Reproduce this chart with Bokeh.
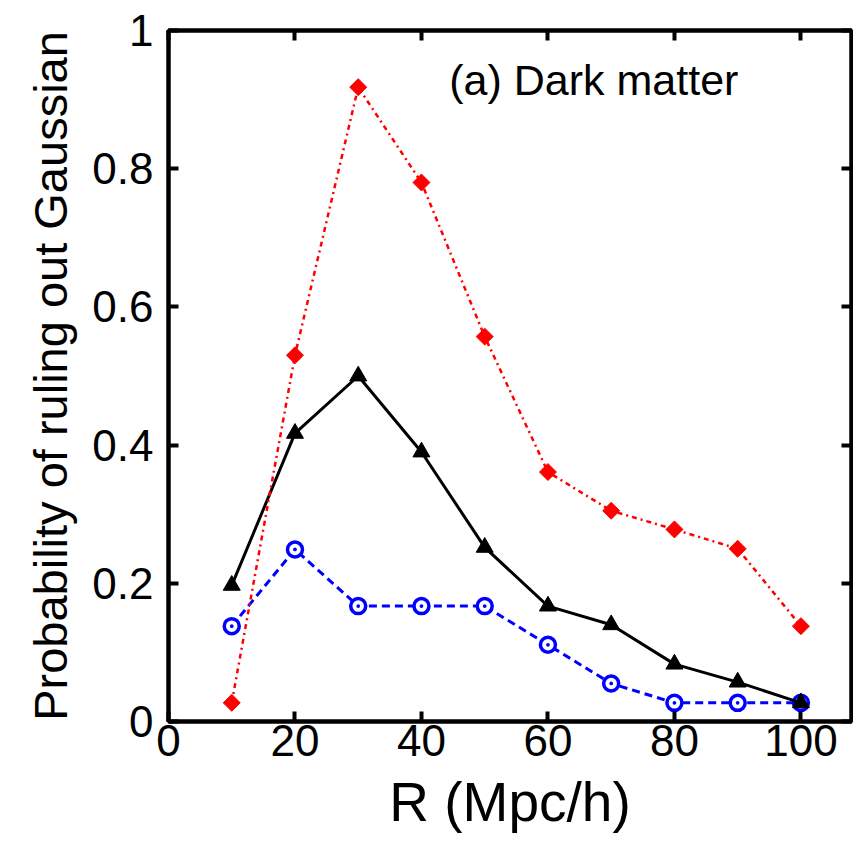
import math
from bokeh.plotting import figure
from bokeh.models import Range1d, LinearAxis, FixedTicker, Label
from bokeh.embed import file_html
from bokeh.resources import INLINE

R = [10, 20, 30, 40, 50, 60, 70, 80, 90, 100]
red_diamond = [0.027, 0.53, 0.918, 0.78, 0.557, 0.361, 0.305, 0.278, 0.25, 0.138]
black_triangle = [0.197, 0.417, 0.50, 0.39, 0.252, 0.167, 0.14, 0.083, 0.057, 0.027]
blue_circle = [0.138, 0.249, 0.167, 0.167, 0.167, 0.111, 0.055, 0.027, 0.027, 0.027]

x_ticks = [0, 20, 40, 60, 80, 100]
y_ticks = [0, 0.2, 0.4, 0.6, 0.8, 1]
y_tick_labels = {0: "0", 0.2: "0.2", 0.4: "0.4", 0.6: "0.6", 0.8: "0.8", 1: "1"}

FONT = "Liberation Sans"

p = figure(width=853, height=835, output_backend="svg", toolbar_location=None,
           x_range=Range1d(0, 108), y_range=Range1d(0, 1),
           min_border_left=168, min_border_top=30, min_border_bottom=110,
           min_border_right=2)
p.background_fill_color = "white"
p.border_fill_color = "white"
p.grid.visible = False
p.outline_line_color = "black"
p.outline_line_width = 4

# series
p.line(R, blue_circle, line_color="#0000ff", line_width=3, line_dash="8 5")
p.scatter(R, blue_circle, marker="circle_dot", size=15, line_color="#0000ff",
          line_width=3.5, fill_color="white")

p.line(R, black_triangle, line_color="black", line_width=3)
p.scatter(R, black_triangle, marker="triangle", size=17, line_color="black",
          fill_color="black")

p.line(R, red_diamond, line_color="#ff0000", line_width=2.5, line_dash="5 4 2 4")
p.scatter(R, red_diamond, marker="square", angle=math.pi / 4, size=12,
          line_color="#ff0000", fill_color="#ff0000")

def style_axis(ax):
    ax.axis_line_width = 4
    ax.axis_line_color = "black"
    ax.major_tick_line_width = 4
    ax.major_tick_line_color = "black"
    ax.major_tick_in = 10
    ax.major_tick_out = 0
    ax.minor_tick_line_color = None

xa = p.xaxis[0]
xa.ticker = FixedTicker(ticks=x_ticks)
style_axis(xa)
xa.major_label_text_font = FONT
xa.major_label_text_font_size = "44px"
xa.major_label_text_color = "black"
xa.major_label_standoff = 3
xa.axis_label = "R (Mpc/h)"
xa.axis_label_text_font = FONT
xa.axis_label_text_font_size = "55px"
xa.axis_label_text_font_style = "normal"
xa.axis_label_text_color = "black"
xa.axis_label_standoff = 12

ya = p.yaxis[0]
ya.ticker = FixedTicker(ticks=y_ticks)
ya.major_label_overrides = y_tick_labels
style_axis(ya)
ya.major_label_text_font = FONT
ya.major_label_text_font_size = "44px"
ya.major_label_text_color = "black"
ya.major_label_standoff = 15
ya.axis_label = "Probability of ruling out Gaussian"
ya.axis_label_text_font = FONT
ya.axis_label_text_font_size = "47px"
ya.axis_label_text_font_style = "normal"
ya.axis_label_text_color = "black"
ya.axis_label_standoff = 12

top = LinearAxis(ticker=FixedTicker(ticks=x_ticks),
                 major_label_overrides={t: "" for t in x_ticks})
style_axis(top)
top.major_label_standoff = 0
p.add_layout(top, "above")

right = LinearAxis(ticker=FixedTicker(ticks=y_ticks),
                   major_label_overrides={t: "" for t in y_ticks})
style_axis(right)
right.major_label_standoff = 0
p.add_layout(right, "right")

p.add_layout(Label(x=44.4, y=0.928, text="(a) Dark matter", text_font=FONT,
                   text_font_size="43px", text_color="black",
                   text_baseline="alphabetic", text_align="left"))

open("out.html", "w").write(file_html(p, INLINE))
